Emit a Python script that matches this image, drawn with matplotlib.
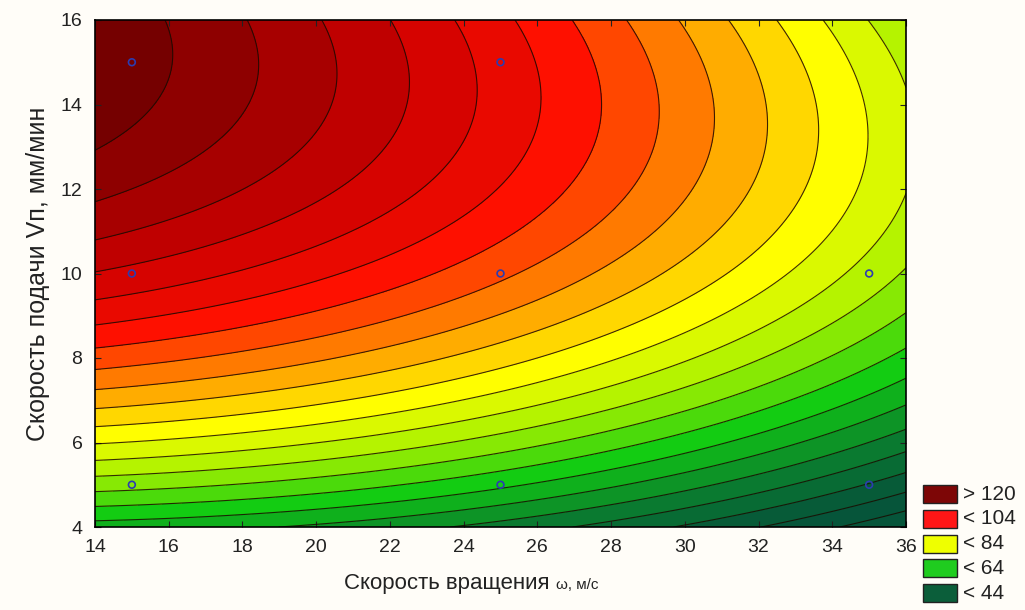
import numpy as np
import matplotlib
matplotlib.use("Agg")
import matplotlib.pyplot as plt
from matplotlib.colors import LinearSegmentedColormap
from matplotlib.patches import Rectangle

plt.rcParams['font.family'] = ['Liberation Sans Narrow', 'Liberation Sans', 'DejaVu Sans']

# Экспериментальные точки (план эксперимента)
omega = [15, 25, 15, 25, 35, 15, 25, 35]        # скорость вращения, м/с
vp = [15, 15, 10, 10, 10, 5, 5, 5]              # скорость подачи, мм/мин
resp = [126, 106, 110, 98, 74, 70, 60, 44]      # отклик

levels = list(range(20, 140, 4))
legend_labels = ["> 120", "< 104", "< 84", "< 64", "< 44"]
legend_colors = ["#7d0606", "#ff1616", "#efff00", "#1fcc1f", "#0b5e3a"]

# Квадратичная поверхность отклика (МНК по точкам плана)
x = np.asarray(omega, float)
y = np.asarray(vp, float)
z = np.asarray(resp, float)
A = np.column_stack([np.ones_like(x), x, y, x**2, y**2, x*y])
coef, *_ = np.linalg.lstsq(A, z, rcond=None)

gx, gy = np.meshgrid(np.linspace(14, 36, 300), np.linspace(4, 16, 300))
gz = (coef[0] + coef[1]*gx + coef[2]*gy + coef[3]*gx**2 + coef[4]*gy**2 + coef[5]*gx*gy)

# цвета зон: тёмно-зелёный -> зелёный -> жёлтый -> красный -> тёмно-красный
vmin, vmax = 40, 128
anchors = [(40, "#06553a"), (50, "#0a7a30"), (62, "#12cc12"), (72, "#a4f000"),
           (82, "#ffff00"), (92, "#ff9800"), (102, "#ff1000"), (112, "#cc0000"),
           (128, "#6a0000")]
cmap = LinearSegmentedColormap.from_list(
    "stat", [((v - vmin) / (vmax - vmin), c) for v, c in anchors])
norm = plt.Normalize(vmin, vmax)

fig = plt.figure(figsize=(10.25, 6.1), dpi=100)
fig.patch.set_facecolor("#fffdf8")
ax = fig.add_axes([95/1025, 1 - 527/610, 811/1025, 507/610])

mids = [(levels[i] + levels[i+1]) / 2 for i in range(len(levels) - 1)]
ax.contourf(gx, gy, gz, levels=levels, colors=[cmap(norm(m)) for m in mids])
ax.contour(gx, gy, gz, levels=levels, colors="#1a0a00", linewidths=0.8, alpha=0.85)

ax.scatter(omega, vp, s=24, facecolors="none", edgecolors="#2c3cb0", linewidths=1.2, zorder=5)

ax.set_xlim(14, 36)
ax.set_ylim(4, 16)
ax.set_xticks(range(14, 37, 2))
ax.set_yticks(range(4, 17, 2))
ax.tick_params(direction="in", top=True, right=True, length=4, labelsize=14,
               colors="#222222", pad=9)
for s in ax.spines.values():
    s.set_linewidth(1.2)

ax.set_ylabel("Скорость подачи Vп, мм/мин", fontsize=18, color="#222222", labelpad=8)
fig.text(556/1025, 1 - 589/610, "Скорость вращения ", fontsize=16, ha="right", va="baseline", color="#222222")
fig.text(556/1025, 1 - 589/610, "ω, м/с", fontsize=11, ha="left", va="baseline", color="#222222")

# Легенда
for i, (lab, col) in enumerate(zip(legend_labels, legend_colors)):
    yc = 494 + i * 24.8
    fig.add_artist(Rectangle((923/1025, 1 - (yc + 9)/610), 34/1025, 18/610,
                             facecolor=col, edgecolor="#222222", linewidth=1.0,
                             transform=fig.transFigure))
    fig.text(963/1025, 1 - yc/610, lab, fontsize=15, va="center", ha="left", color="#222222")

fig.savefig("out.png", dpi=100, facecolor=fig.get_facecolor())
